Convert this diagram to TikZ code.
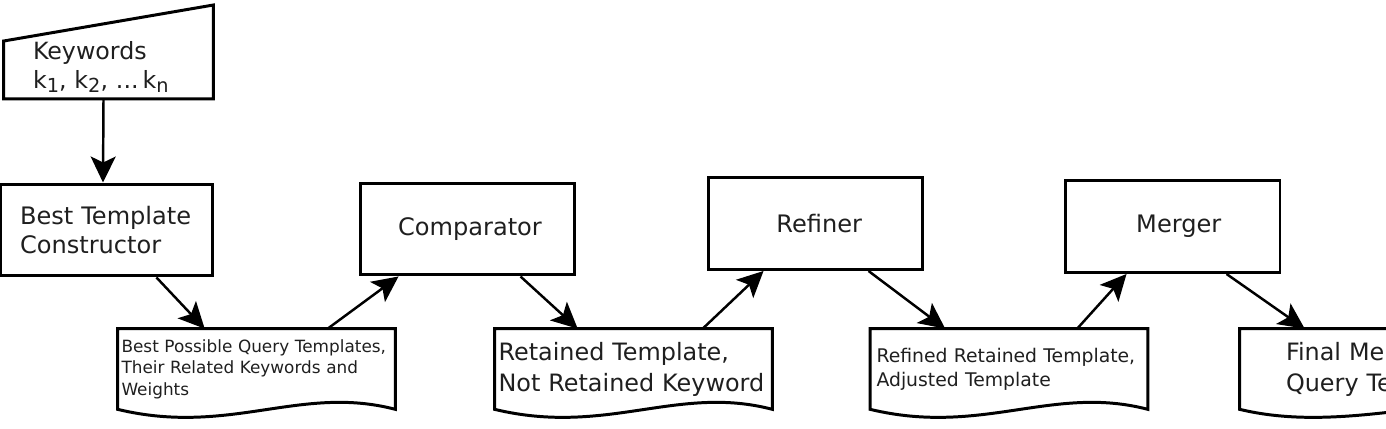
\documentclass[tikz,border=0pt]{standalone}
\usepackage{fontspec}
\setmainfont{DejaVu Sans}
\usetikzlibrary{positioning}
\usetikzlibrary{calc}
\usetikzlibrary{arrows.meta}
\tikzset{
    procbox/.style = {rectangle, draw=black, line width=1.7pt, minimum width=4.3cm, minimum height=1.84cm, text=black!88, font=\fontsize{13.7}{17}\selectfont},
    docbox/.style = {rectangle, minimum width=5.54cm, minimum height=1.6cm, text width=5.4cm, inner xsep=0.07cm, align=left, text=black!88},
    docline/.style = {draw=black, line width=1.7pt},
    edgen/.style = {-{Stealth[length=0.52cm,width=0.5cm,inset=0.12cm]}, line width=1.4pt},
}
% paper-like sheet with a wavy lower edge
\newcommand{\docshape}[1]{\draw[docline] (#1.south west) -- (#1.north west) -- (#1.north east) -- (#1.south east) .. controls +(-95,-25) and +(112,27) .. (#1.south west) -- cycle;}
\newcommand{\ksub}[1]{\raisebox{-0.35ex}{\fontsize{11}{11}\selectfont #1}}

\begin{document}
\begin{tikzpicture}[x=0.02cm, y=-0.02cm]
  \clip (0,0) rectangle (1386,429);
  \useasboundingbox (0,0) rectangle (1386,429);

  % input
  \node[rectangle, minimum width=4.18cm, minimum height=1.24cm, inner xsep=0.58cm, text width=3.02cm, align=left, text=black!88, font=\fontsize{13.5}{16.5}\selectfont] (kw) at (108.5,67) {Keywords\\k\ksub{1}, k\ksub{2}, ...\,k\ksub{n}};
  \draw[docline] (kw.south west) -- (kw.south east) -- ($(kw.north east)+(0,-30)$) -- ($(kw.north west)+(0,6)$) -- cycle;

  % process boxes
  \node[procbox, minimum width=4.26cm, inner xsep=0.4cm, text width=3.46cm, align=left] (btc) at (106.5,230) {Best Template\\Constructor};
  \node[procbox] (cmp) at (467.5,229) {\hspace{0.1cm}Comparator};
  \node[procbox] (ref) at (815.5,223.5) {\hspace{0.15cm}Refiner};
  \node[procbox] (mer) at (1172.5,226.5) {\hspace{0.25cm}Merger};

  % documents
  \node[docbox, font=\fontsize{9.6}{12.2}\selectfont] (d1) at (256.5,369) {Best Possible Query Templates,\\Their Related Keywords and\\Weights};
  \node[docbox, font=\fontsize{13.6}{17.6}\selectfont] (d2) at (633.5,369) {Retained Template,\\Not Retained Keyword};
  \node[docbox, inner xsep=0.12cm, text width=5.3cm, font=\fontsize{10.7}{13.6}\selectfont] (d3) at (1009,369) {Refined Retained Template,\\Adjusted Template};
  \node[docbox, inner xsep=0.92cm, text width=4.6cm, font=\fontsize{13.6}{17.6}\selectfont] (d4) at (1401,369) {Final Merged\\Query Template};
  \docshape{d1}
  \docshape{d2}
  \docshape{d3}
  \docshape{d4}

  \draw[edgen] ([xshift=-0.1cm]kw.south) -- ([xshift=-0.07cm]btc.north);
  \draw[edgen] ($(btc.south east)+(-58,0)$) -- ($(d1.north west)+(87,0)$);
  \draw[edgen] ($(d1.north west)+(210,0)$) -- ($(cmp.south west)+(40,0)$);
  \draw[edgen] ($(cmp.south west)+(162,0)$) -- ($(d2.north west)+(83,0)$);
  \draw[edgen] ($(d2.north west)+(208,0)$) -- ($(ref.south west)+(57,0)$);
  \draw[edgen] ($(ref.south west)+(162,0)$) -- ($(d3.north west)+(75,0)$);
  \draw[edgen] ($(d3.north west)+(207,0)$) -- ($(mer.south west)+(63,0)$);
  \draw[edgen] ($(mer.south west)+(163,0)$) -- ($(d4.north west)+(65,0)$);
\end{tikzpicture}
\end{document}
